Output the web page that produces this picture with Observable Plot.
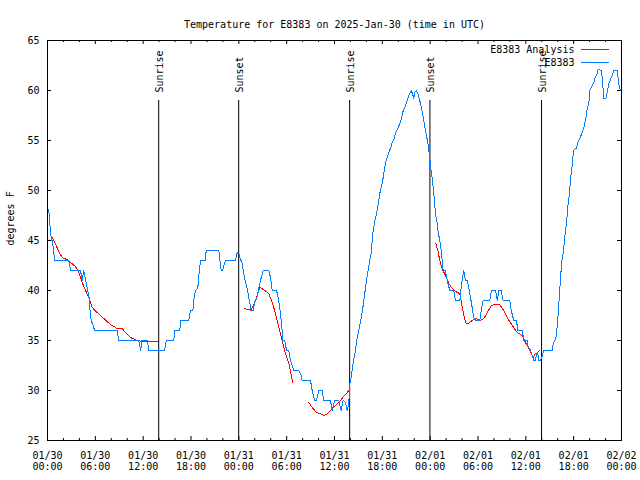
<!DOCTYPE html>
<html><head><meta charset="utf-8">
<script src="https://cdn.jsdelivr.net/npm/d3@7"></script>
<script src="https://cdn.jsdelivr.net/npm/@observablehq/plot@0.6"></script>
<style>body{margin:0;background:#fff}</style>
</head><body><div id="chart"></div>
<script>
const titleText = "Temperature for E8383 on 2025-Jan-30 (time in UTC)";
const yLabel = "degrees F";
const startTime = "2025-01-30T00:00:00Z";
const spanHours = 72;
const yDomain = [25, 65];
const yTickValues = [25, 30, 35, 40, 45, 50, 55, 60, 65];

// E8383 observations: hours since 2025-01-30 00:00 UTC, temperature (F)
const stationHours = [0.16,0.29,0.41,0.66,0.79,0.92,2.67,2.92,4.14,4.35,4.55,4.80,4.98,5.23,5.36,5.48,5.73,5.90,8.74,8.94,11.45,11.70,11.85,12.51,12.71,14.68,14.89,15.84,15.97,16.60,16.68,17.72,17.94,18.23,18.35,18.56,18.85,18.98,19.19,19.78,19.91,21.49,21.70,21.79,21.99,22.11,22.33,23.58,23.80,24.00,24.12,24.42,24.62,24.84,25.05,25.25,25.38,25.55,25.80,25.97,26.22,26.38,26.63,26.81,27.06,27.76,27.97,28.19,28.72,28.89,29.10,29.31,29.44,29.51,29.77,29.98,30.27,30.48,30.90,31.52,31.82,31.95,32.99,33.20,33.49,33.74,34.03,34.46,34.66,35.50,35.71,36.00,36.54,36.84,37.09,37.38,37.59,37.79,37.92,38.09,38.35,38.63,38.85,39.17,39.51,39.76,40.01,40.27,40.43,40.60,40.80,41.06,41.36,41.68,41.98,42.19,42.40,42.61,42.81,43.02,43.24,43.44,43.65,43.94,44.19,44.40,44.62,44.91,45.12,45.32,45.62,45.78,45.95,46.07,46.29,46.45,46.70,46.88,47.13,47.41,47.70,47.95,48.04,48.17,48.33,48.46,48.58,48.71,48.88,49.01,49.21,49.38,49.51,49.63,49.92,50.14,50.46,50.96,51.18,51.72,51.89,52.06,52.22,52.43,52.65,52.85,53.06,53.27,53.47,53.69,54.23,54.40,54.65,55.48,55.69,56.20,56.41,56.61,56.91,57.16,57.99,58.17,58.49,58.83,58.99,59.54,59.75,60.17,60.25,60.59,60.80,61.00,61.21,61.34,61.50,61.63,61.84,62.03,62.25,63.31,63.43,63.63,63.85,63.93,64.06,64.19,64.31,64.44,64.56,64.69,64.81,64.94,65.06,65.19,65.31,65.44,65.57,65.69,65.82,65.94,66.07,66.36,66.52,66.77,67.07,67.27,67.48,67.70,67.90,68.02,68.33,68.53,68.65,68.86,69.08,69.49,69.66,69.78,70.03,70.21,70.41,70.62,70.83,71.04,71.46,71.66,71.79,71.87];
const stationTemps = [48.1,46.7,45.5,44.7,43.7,43,43,42,42,41,42,41,40.3,39.3,37.7,37,36.5,36,36,35,35,34,35,35,34,34,35,35,36,36,37,37,38,38,39,40,40.2,41.5,43,43,44,44,42.5,42,42,42.5,43,43,43.8,43.7,43.3,42.7,41.7,40.8,40.2,39.3,38.7,38,38,38.8,39.2,39.7,40.7,41.3,42,42,41.3,40,40,39.5,38.5,37,36,35,35,34,34,33,32,32,31.5,31,31,30,29,29,30,30,29,29,28,29,29,28,29,28.8,28,28.7,30.7,31.3,32.8,34,35.3,36.5,38,39.5,41,42.3,43,43.7,45.7,47,48,49.7,50.7,51.7,52.8,53.3,53.8,54.2,54.8,55.1,55.7,56.2,56.7,57.2,58,58.5,59,59.5,60,59.7,59.2,59.8,60,59.7,59,58.3,57.3,56,54.8,53.3,52.5,51.7,50.7,49.7,48.5,47.5,46.7,45.8,45,44,43,42,42,41,40,40,39,39,40.3,41.3,42,41,41,40.3,39.3,38.3,37.3,37,37,38,39,39,40,40,39,40,40,39,39,38,37,37,36,36,35,35,34.5,34,33.5,33,33,33.7,33.7,33,33,33.4,34,34,34.7,35,35.5,36.5,37.7,39.3,40.7,42.2,43.2,43.8,44.7,45.7,46.5,47.5,48.7,49.5,50.7,51.7,52.5,53.7,54.1,54.2,54.8,55.2,55.8,56.3,57,58.2,58.7,60,60.5,60.8,61.2,61.5,62.1,62,60.5,59.2,59.2,59.8,60.7,61.1,61.5,62,62,60.7,60.2,60];

// E8383 Analysis: hours, temperature, segment id
const analysisHours = [0.59,1.09,1.47,1.84,2.47,2.89,3.51,3.93,4.35,4.77,5.18,5.61,6.23,7.06,7.90,8.74,9.37,9.78,10.41,11.04,11.67,13.13,13.33,13.76,
  24.71,25.25,25.55,25.80,26.09,26.30,26.63,27.13,27.76,28.19,28.60,29.01,29.44,29.85,30.27,30.77,
  32.78,33.20,33.74,34.24,34.75,35.08,35.50,36.13,36.75,37.25,37.82,
  48.71,48.96,49.21,49.51,49.92,50.34,50.76,51.39,51.72,52.02,52.43,52.72,53.27,53.69,54.31,54.73,55.16,55.66,56.20,56.74,57.24,57.74,58.29,58.92,59.54,59.96,60.37,60.92,61.21,61.50,61.75];
const analysisTemps = [45.27,44.5,43.8,43.3,43.07,42.8,42.4,41.8,40.8,40,39.3,38.3,37.8,37.2,36.6,36.2,36.2,35.8,35.3,35.07,34.93,34.93,34.87,34.87,
  38.17,38.1,38,38.5,39,39.5,40.3,40.07,39.7,38.8,37.7,36.3,35,33.7,32.7,30.8,
  28.8,28.3,27.8,27.67,27.5,27.67,28,28.5,29,29.5,30,
  44.67,44,43,42.17,41.5,40.7,40.2,39.8,39.7,38.3,36.8,36.67,37,37.2,37,37.2,37.8,38.5,38.6,38.57,38,37.2,36.5,35.8,35.5,34.8,34.2,33.3,33.7,33.8,34];
const analysisSegments = [...Array(24).fill(1), ...Array(16).fill(2), ...Array(11).fill(3), ...Array(31).fill(4)];

// Sun events (hours since start)
const eventHours = [13.95, 23.98, 37.9, 47.97, 61.97];
const eventLabels = ["Sunrise", "Sunset", "Sunrise", "Sunset", "Sunrise"];

const seriesNames = ["E8383 Analysis", "E8383"];
const seriesColors = ["#ff0000", "#0080ff"];

const t0 = new Date(startTime);
const toDate = h => new Date(+t0 + h * 3600e3);
const t1 = toDate(spanHours);

const station = stationHours.map((h, i) => ({t: toDate(h), v: stationTemps[i]}));
const analysis = analysisHours.map((h, i) => ({t: toDate(h), v: analysisTemps[i], s: analysisSegments[i]}));
const events = eventHours.map((h, i) => ({t: toDate(h), label: eventLabels[i]}));

const majorX = d3.utcHour.every(6).range(t0, new Date(+t1 + 1));
const minorX = d3.utcHour.every(2).range(t0, new Date(+t1 + 1)).filter(d => d.getUTCHours() % 6 !== 0);
const fmt = d3.utcFormat("%m/%d\n%H:%M");

function legendMark(index, scales, values, dims) {
  const g = d3.create("svg:g");
  const xr = dims.width - dims.marginRight;
  seriesNames.forEach((name, i) => {
    const y = dims.marginTop + 9.5 + i * 13;
    g.append("text").attr("x", xr - 46.5).attr("y", y + 0.5).attr("dy", "0.32em")
      .attr("text-anchor", "end").attr("fill", "black").text(name);
    g.append("line").attr("x1", xr - 40).attr("x2", xr - 12).attr("y1", y).attr("y2", y)
      .attr("stroke", seriesColors[i]).attr("stroke-width", 1);
  });
  return g.node();
}

const chart = Plot.plot({
  width: 640, height: 480,
  marginLeft: 47, marginRight: 19, marginTop: 40, marginBottom: 40,
  style: {fontFamily: "'DejaVu Sans Mono', monospace", fontSize: "10px", background: "white", color: "black"},
  x: {type: "utc", domain: [t0, t1]},
  y: {domain: yDomain},
  marks: [
    Plot.axisX({ticks: majorX, tickFormat: fmt, tickSize: 0, tickPadding: 11, lineHeight: 1.1, label: null}),
    Plot.axisY({ticks: yTickValues, tickSize: 0, tickPadding: 8, label: null}),
    Plot.ruleX(majorX, {x: d => d, insetTop: 396, stroke: "black"}),
    Plot.ruleX(majorX, {x: d => d, insetBottom: 396, stroke: "black"}),
    Plot.ruleX(minorX, {x: d => d, insetTop: 398, stroke: "black"}),
    Plot.ruleX(minorX, {x: d => d, insetBottom: 398, stroke: "black"}),
    Plot.ruleY(yTickValues, {y: d => d, insetRight: 570, stroke: "black"}),
    Plot.ruleY(yTickValues, {y: d => d, insetLeft: 570, stroke: "black"}),
    Plot.ruleX(events, {x: "t", insetTop: 60, stroke: "black"}),
    Plot.text(events, {x: "t", text: "label", frameAnchor: "top", dy: 52, dx: -3, rotate: -90, textAnchor: "start", fill: "black"}),
    Plot.line(analysis, {x: "t", y: "v", z: "s", stroke: seriesColors[0], strokeWidth: 1, shapeRendering: "crispEdges"}),
    Plot.line(station, {x: "t", y: "v", stroke: seriesColors[1], strokeWidth: 1, shapeRendering: "crispEdges"}),
    Plot.frame({stroke: "black"}),
    legendMark,
    Plot.text([titleText], {frameAnchor: "top", dy: -20, fill: "black"}),
    Plot.text([yLabel], {frameAnchor: "left", dx: -37, dy: 5, rotate: -90, fill: "black"})
  ]
});
document.getElementById("chart").appendChild(chart);
</script>
</body></html>
